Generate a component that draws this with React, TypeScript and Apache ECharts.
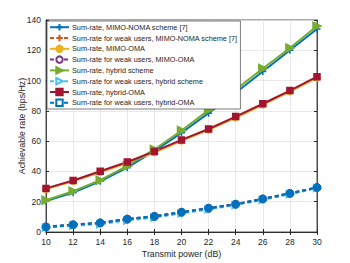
import React, { useEffect, useRef } from "react";
import * as echarts from "echarts";

const power = [10, 12, 14, 16, 18, 20, 22, 24, 26, 28, 30];
const xTicks = ["10", "12", "14", "16", "18", "20", "22", "24", "26", "28", "30"];

const nomaSum = [20.5, 26, 33.5, 42.5, 53.5, 65.5, 78.5, 92, 106, 120, 134];
const nomaWeak = [3.3, 4.7, 5.9, 8.4, 10.2, 13, 15.6, 18.3, 21.8, 25.4, 29.3];
const omaSum = [28.3, 33.5, 39.5, 45.6, 52.5, 60.2, 67.4, 75.4, 84, 92.7, 101.8];
const omaWeak = [3.4, 4.8, 6, 8.6, 10.3, 13.1, 15.7, 18.4, 21.9, 25.5, 29.4];
const hybridSum = [21, 27, 34.2, 43.6, 54.5, 67, 80.5, 94, 108, 121.5, 136];
const hybridWeak = [2.9, 4.2, 5.2, 7.6, 9.5, 12.3, 15, 17.8, 21.3, 25, 29];
const hybridOmaSum = [28.8, 34, 40.1, 46.2, 53.2, 60.8, 68, 76.2, 84.7, 93.4, 102.6];
const hybridOmaWeak = [3.3, 4.8, 6, 8.5, 10.3, 13, 15.7, 18.3, 21.8, 25.5, 29.4];

const names = [
  "Sum-rate, MIMO-NOMA scheme [7]",
  "Sum-rate for weak users, MIMO-NOMA scheme [7]",
  "Sum-rate, MIMO-OMA",
  "Sum-rate for weak users, MIMO-OMA",
  "Sum-rate, hybrid scheme",
  "Sum-rate for weak users, hybrid scheme",
  "Sum-rate, hybrid-OMA",
  "Sum-rate for weak users, hybrid-OMA",
];

const plusPath = "path://M0,5L10,5M5,0L5,10";
const triRight = "path://M0,0L10,5L0,10Z";

export default function App() {
  const ref = useRef<HTMLDivElement>(null);
  useEffect(() => {
    if (!ref.current) return;
    const chart = echarts.init(ref.current, null, { renderer: "svg" });
    const mk = (
      name: string,
      data: number[],
      color: string,
      dashed: boolean,
      symbol: string,
      size: number,
      filled: boolean,
      width = 2
    ) => ({
      name,
      type: "line",
      data: data.map((v, i) => [power[i], v]),
      symbol,
      symbolSize: size,
      showSymbol: true,
      lineStyle: { color, width, type: dashed ? [4, 3] : "solid" },
      itemStyle: {
        color: filled ? color : "#ffffff",
        borderColor: color,
        borderWidth: 1.5,
      },
      z: 3,
    });
    const series: any[] = [
      mk(names[0], nomaSum, "#0072BD", false, plusPath, 7, true, 2),
      mk(names[1], nomaWeak, "#D95319", true, plusPath, 7, true, 2),
      mk(names[2], omaSum, "#EDB120", false, "circle", 6, true, 2),
      mk(names[3], omaWeak, "#7E2F8E", true, "circle", 7, false, 2),
      mk(names[4], hybridSum, "#77AC30", false, triRight, 8, true, 2),
      mk(names[5], hybridWeak, "#4DBEEE", true, triRight, 7, false, 2),
      mk(names[6], hybridOmaSum, "#A2142F", false, "rect", 6, true, 2),
      mk(names[7], hybridOmaWeak, "#0072BD", true, "rect", 6, false, 2.5),
    ];
    // on the plot the weak-user points appear as heavy blue dots
    series[7].data = hybridOmaWeak.map((v, i) => ({
      value: [power[i], v],
      symbol: "circle",
      symbolSize: 8,
      itemStyle: { color: "#0072BD", borderColor: "#0072BD", borderWidth: 1 },
    }));
    const axisText = { color: "#262626", fontSize: 8.5, fontFamily: "Liberation Sans, Arial, sans-serif" };
    chart.setOption({
      animation: false,
      backgroundColor: "#ffffff",
      textStyle: { fontFamily: "Liberation Sans, Arial, sans-serif" },
      grid: {
        left: 46,
        right: 33,
        top: 20,
        bottom: 29,
        show: true,
        borderColor: "#262626",
        borderWidth: 0.8,
        backgroundColor: "transparent",
      },
      legend: {
        orient: "vertical",
        left: 47,
        top: 21,
        padding: [2, 3, 2, 2],
        itemWidth: 19,
        itemHeight: 8,
        itemGap: 2.4,
        backgroundColor: "#ffffff",
        borderColor: "#262626",
        borderWidth: 0.6,
        borderRadius: 0,
        data: names,
        textStyle: { color: "#262626", fontSize: 7.3, lineHeight: 8, padding: [0, 0, 0, -2] },
        z: 10,
      },
      xAxis: [
        {
          type: "value",
          min: 10,
          max: 30,
          interval: 2,
          name: "Transmit power (dB)",
          nameLocation: "middle",
          nameGap: 17,
          nameMoveOverlap: false,
          nameTextStyle: { ...axisText, fontSize: 8.8 },
          axisLine: { show: true, lineStyle: { color: "#262626", width: 0.8 } },
          axisTick: { show: true, inside: true, length: 3, lineStyle: { color: "#262626" } },
          axisLabel: { ...axisText, margin: 5, formatter: (v: number) => xTicks[(v - 10) / 2] ?? "" },
          splitLine: { show: true, lineStyle: { color: "#e3e3e3", width: 0.8 } },
        },
        {
          type: "value",
          position: "top",
          min: 10,
          max: 30,
          interval: 2,
          axisLine: { show: true, lineStyle: { color: "#262626", width: 0.8 } },
          axisTick: { show: true, inside: true, length: 3, lineStyle: { color: "#262626" } },
          axisLabel: { show: false },
          splitLine: { show: false },
        },
      ],
      yAxis: [
        {
          type: "value",
          min: 0,
          max: 140,
          interval: 20,
          name: "Achievable rate (bps/Hz)",
          nameLocation: "middle",
          nameGap: 20,
          nameMoveOverlap: false,
          nameTextStyle: { ...axisText, fontSize: 8.8 },
          axisLine: { show: true, lineStyle: { color: "#262626", width: 0.8 } },
          axisTick: { show: true, inside: true, length: 3, lineStyle: { color: "#262626" } },
          axisLabel: { ...axisText, margin: 5 },
          splitLine: { show: true, lineStyle: { color: "#e3e3e3", width: 0.8 } },
        },
        {
          type: "value",
          position: "right",
          min: 0,
          max: 140,
          interval: 20,
          axisLine: { show: true, lineStyle: { color: "#262626", width: 0.8 } },
          axisTick: { show: true, inside: true, length: 3, lineStyle: { color: "#262626" } },
          axisLabel: { show: false },
          splitLine: { show: false },
        },
      ],
      series,
    });
    return () => chart.dispose();
  }, []);
  return <div ref={ref} style={{ width: 350, height: 263, position: "absolute", left: 0, top: 0 }} />;
}
